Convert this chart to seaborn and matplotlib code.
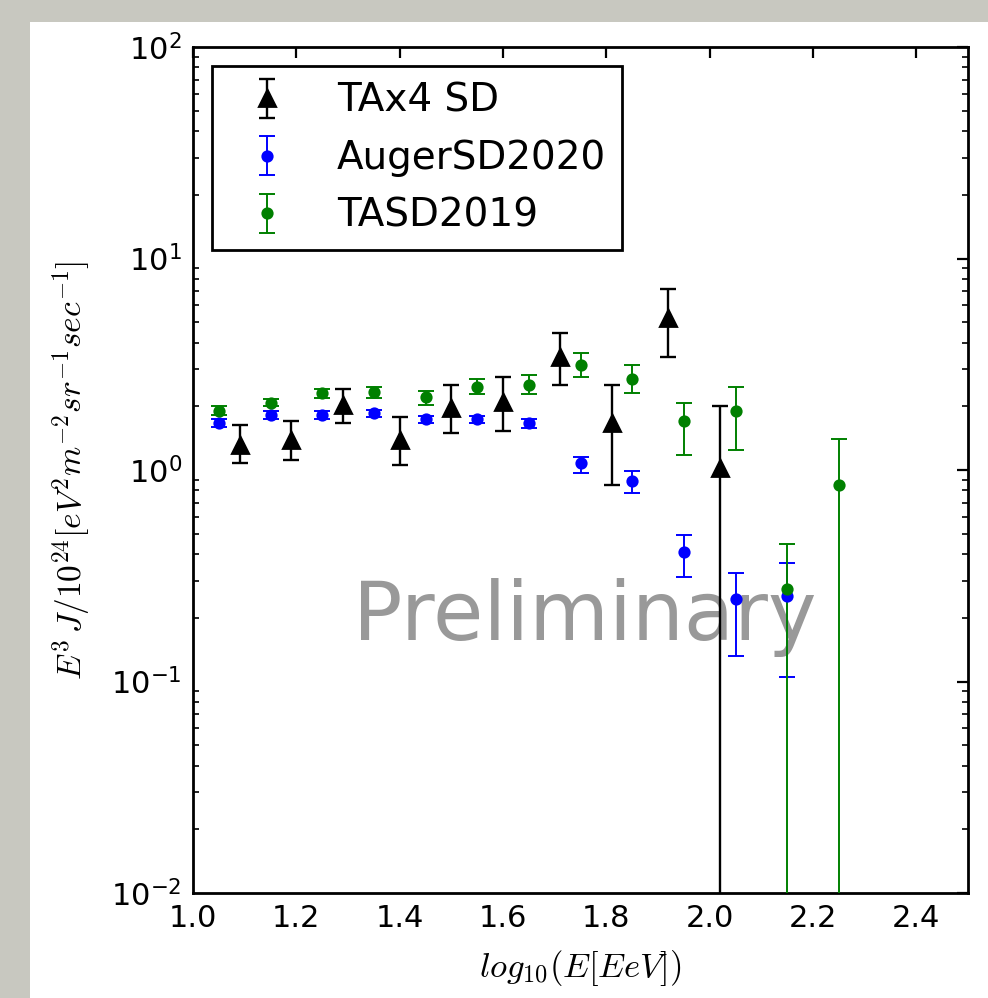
import numpy as np
import matplotlib
matplotlib.use("Agg")
import matplotlib.pyplot as plt
import seaborn as sns
from matplotlib.patches import Rectangle
from matplotlib.ticker import FixedLocator, FormatStrFormatter

# TAx4 SD
tax4_x = [1.09, 1.19, 1.29, 1.40, 1.50, 1.60, 1.71, 1.81, 1.92, 2.02]
tax4_y = [1.31, 1.38, 2.03, 1.38, 1.96, 2.10, 3.44, 1.66, 5.21, 1.02]
tax4_hi = [1.64, 1.71, 2.42, 1.79, 2.52, 2.75, 4.46, 2.52, 7.18, 2.01]
tax4_lo = [1.08, 1.12, 1.66, 1.06, 1.50, 1.53, 2.52, 0.85, 3.44, 0.0]

# AugerSD2020
auger_x = [1.05, 1.15, 1.25, 1.35, 1.45, 1.55, 1.65, 1.75, 1.85, 1.95, 2.05, 2.15]
auger_y = [1.67, 1.82, 1.82, 1.85, 1.74, 1.74, 1.66, 1.08, 0.89, 0.411, 0.245, 0.254]
auger_hi = [1.74, 1.90, 1.90, 1.93, 1.81, 1.81, 1.74, 1.15, 0.99, 0.491, 0.325, 0.362]
auger_lo = [1.60, 1.75, 1.75, 1.78, 1.67, 1.67, 1.58, 0.965, 0.776, 0.311, 0.132, 0.105]

# TASD2019
tasd_x = [1.05, 1.15, 1.25, 1.35, 1.45, 1.55, 1.65, 1.75, 1.85, 1.95, 2.05, 2.15, 2.25]
tasd_y = [1.91, 2.08, 2.32, 2.35, 2.22, 2.48, 2.52, 3.14, 2.69, 1.71, 1.90, 0.273, 0.846]
tasd_hi = [2.00, 2.17, 2.42, 2.46, 2.36, 2.70, 2.81, 3.59, 3.14, 2.07, 2.46, 0.447, 1.40]
tasd_lo = [1.82, 2.00, 2.18, 2.20, 2.03, 2.28, 2.28, 2.76, 2.31, 1.18, 1.25, 0.0, 0.0]

x_ticks = [1.0, 1.2, 1.4, 1.6, 1.8, 2.0, 2.2, 2.4]


def yerr(y, lo, hi):
    y = np.array(y)
    return [y - np.array(lo), np.array(hi) - y]


sns.set_theme(style="white")
plt.rcParams.update({
    "font.family": ["DejaVu Sans"],
    "mathtext.fontset": "cm",
    "text.color": "black",
    "axes.labelcolor": "black",
    "axes.edgecolor": "black",
    "axes.linewidth": 1.0,
    "xtick.direction": "in",
    "ytick.direction": "in",
    "xtick.top": True,
    "ytick.right": True,
    "xtick.major.size": 4,
    "ytick.major.size": 4,
    "ytick.minor.size": 2,
    "xtick.color": "black",
    "ytick.color": "black",
})

fig = plt.figure(figsize=(4.94, 4.99), dpi=200, facecolor="#c8c8c0")
# white page area of the slide behind the plot
page = Rectangle((30 / 988, 0), 1 - 30 / 988, 1 - 22 / 998,
                 transform=fig.transFigure, facecolor="white",
                 edgecolor="none", zorder=-10)
fig.add_artist(page)
ax = fig.add_axes([193 / 988, 105 / 998, 775 / 988, 846 / 998])

ax.text(0.506, 0.299, "Preliminary", transform=ax.transAxes, fontsize=29.5,
        color="#999999", ha="center", va="baseline", zorder=1)

ax.errorbar(tax4_x, tax4_y, yerr=yerr(tax4_y, tax4_lo, tax4_hi), fmt="^",
            color="black", ms=5.5, capsize=3, elinewidth=0.85, capthick=0.85,
            label="TAx4 SD", zorder=3)
ax.errorbar(auger_x, auger_y, yerr=yerr(auger_y, auger_lo, auger_hi), fmt="o",
            color="blue", ms=3.4, capsize=3, elinewidth=0.7, capthick=0.7,
            mec="blue", label="AugerSD2020", zorder=3)
ax.errorbar(tasd_x, tasd_y, yerr=yerr(tasd_y, tasd_lo, tasd_hi), fmt="o",
            color="green", ms=3.4, capsize=3, elinewidth=0.7, capthick=0.7,
            mec="green", label="TASD2019", zorder=3)

ax.set_yscale("log", nonpositive="clip")
ax.set_ylim(1e-2, 1e2)
ax.set_xlim(1.0, 2.5)
ax.xaxis.set_major_locator(FixedLocator(x_ticks))
ax.xaxis.set_major_formatter(FormatStrFormatter("%.1f"))
ax.tick_params(axis="both", which="major", labelsize=11, width=0.8, pad=4)
ax.tick_params(axis="y", which="minor", width=0.6, left=True, right=True)

ax.set_xlabel(r"$log_{10}(E[EeV])$", fontsize=12.5)
ax.set_ylabel(r"$E^3\,J/10^{24}[eV^2m^{-2}sr^{-1}sec^{-1}]$", fontsize=12)
ax.yaxis.set_label_coords(-0.156, 0.5)
ax.yaxis.label.set_va("center")
ax.xaxis.set_label_coords(0.5, -0.065)

leg = ax.legend(loc="upper left", numpoints=1, fontsize=14, fancybox=False,
                handlelength=2.0, handletextpad=0.8, borderpad=0.4,
                labelspacing=0.5, borderaxespad=0.5, framealpha=1)
leg.get_frame().set_edgecolor("black")
leg.get_frame().set_linewidth(1.0)

fig.savefig("out.png", dpi=200, facecolor=fig.get_facecolor())
